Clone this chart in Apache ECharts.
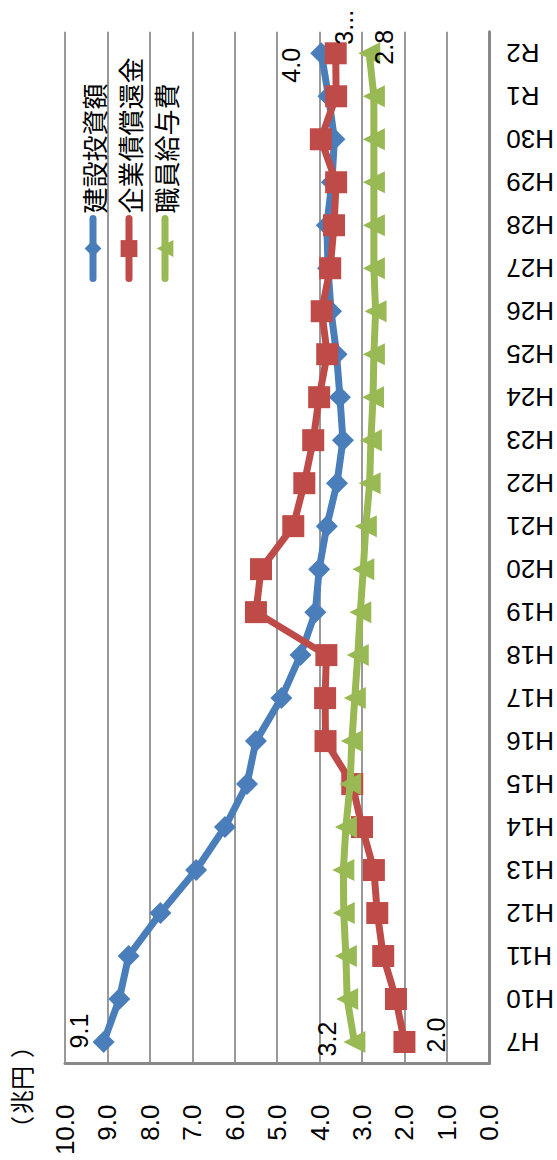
<!DOCTYPE html>
<html>
<head>
<meta charset="utf-8">
<script src="https://cdn.jsdelivr.net/npm/echarts@6/dist/echarts.min.js"></script>
<style>
html,body{margin:0;padding:0;background:#fff;overflow:hidden;width:557px;height:1160px;}
#main{position:absolute;left:0;top:0;width:1160px;height:557px;transform-origin:0 0;transform:translate(0,1160px) rotate(-90deg);}
</style>
</head>
<body>
<div id="main"></div>
<script>
var categories = ['H7','H10','H11','H12','H13','H14','H15','H16','H17','H18','H19','H20','H21','H22','H23','H24','H25','H26','H27','H28','H29','H30','R1','R2'];
var seriesNames = ['建設投資額','企業債償還金','職員給与費'];
var construction = [9.09, 8.72, 8.50, 7.75, 6.91, 6.23, 5.71, 5.50, 4.90, 4.45, 4.10, 4.01, 3.83, 3.59, 3.45, 3.52, 3.60, 3.73, 3.80, 3.83, 3.71, 3.65, 3.79, 3.96];
var bondRedemption = [2.00, 2.20, 2.50, 2.64, 2.72, 3.00, 3.23, 3.86, 3.87, 3.84, 5.50, 5.38, 4.62, 4.36, 4.15, 4.01, 3.82, 3.95, 3.75, 3.66, 3.61, 3.97, 3.61, 3.62];
var salaries = [3.18, 3.35, 3.38, 3.43, 3.44, 3.38, 3.28, 3.24, 3.17, 3.10, 3.04, 2.97, 2.91, 2.82, 2.79, 2.74, 2.72, 2.68, 2.72, 2.72, 2.72, 2.72, 2.72, 2.83];
var valueTicks = {min: 0, max: 10, interval: 1};
var unitText = ['（', '兆円', '）'];

var colors = ['#4A7EBB', '#BE4B48', '#98B954'];
var symbols = ['diamond', 'rect', 'triangle'];
// label offsets for first / last point of each series
var labelOffsets = [
  [[11, -25], [-12, -30]],
  [[7, 32], [26, 8]],
  [[3, -27], [6, 15]]
];
var latin = '"Liberation Sans", Arial, sans-serif';
var cjk = '"Noto Sans CJK JP", "Noto Sans", sans-serif';

function buildData(arr, si) {
  return arr.map(function (v, i) {
    var item = {value: v};
    var last = arr.length - 1;
    if (i === 0 || i === last) {
      var off = labelOffsets[si][i === 0 ? 0 : 1];
      item.label = {
        show: true,
        position: 'inside',
        offset: off,
        fontSize: 25,
        fontFamily: latin,
        color: '#000',
        formatter: function (p) {
          var s = p.value.toFixed(1);
          if (si === 1 && i === last) { s = s.slice(0, 1) + '...'; }
          return s;
        }
      };
    }
    return item;
  });
}

var allData = [construction, bondRedemption, salaries];
var series = allData.map(function (arr, si) {
  return {
    name: seriesNames[si],
    type: 'line',
    data: buildData(arr, si),
    symbol: symbols[si],
    symbolSize: 22,
    lineStyle: {width: 7, color: colors[si], cap: 'round', join: 'round'},
    itemStyle: {color: colors[si]},
    label: {show: false},
    emphasis: {disabled: true},
    z: 2 + si
  };
});

var chart = echarts.init(document.getElementById('main'), null, {renderer: 'svg', width: 1160, height: 557});
chart.setOption({
  animation: false,
  backgroundColor: '#fff',
  grid: {left: 96.5, right: 31.8, top: 65, bottom: 62.7, containLabel: false},
  legend: {
    data: seriesNames,
    orient: 'vertical',
    left: 873,
    top: 75,
    itemWidth: 60,
    itemHeight: 21,
    itemGap: 10,
    textStyle: {fontSize: 26, fontFamily: cjk, color: '#000'},
    lineStyle: {width: 7, cap: 'round'}
  },
  xAxis: {
    type: 'category',
    data: categories,
    boundaryGap: true,
    axisLine: {show: true, lineStyle: {color: '#898989', width: 3}},
    axisTick: {show: false},
    axisLabel: {interval: 0, rotate: 90, margin: 17, fontSize: 26, fontFamily: latin, color: '#000'},
    splitLine: {show: false}
  },
  yAxis: {
    type: 'value',
    min: valueTicks.min,
    max: valueTicks.max,
    interval: valueTicks.interval,
    axisLine: {show: true, lineStyle: {color: '#898989', width: 3}},
    axisTick: {show: false},
    axisLabel: {margin: 41, fontSize: 26, fontFamily: latin, color: '#000', formatter: function (v) { return v.toFixed(1); }},
    splitLine: {show: true, lineStyle: {color: '#999999', width: 2}}
  },
  graphic: [{
    type: 'text',
    left: 20,
    top: 8,
    style: {
      text: '{a|' + unitText[0] + '}{t|' + unitText[1] + '}{b|' + unitText[2] + '}',
      fontSize: 24,
      fontFamily: cjk,
      fill: '#000',
      rich: {
        a: {fontSize: 24, fontFamily: cjk, fill: '#000', padding: [0, 2, 0, 0]},
        t: {fontSize: 24, fontFamily: cjk, fill: '#000'},
        b: {fontSize: 24, fontFamily: cjk, fill: '#000', padding: [0, 0, 0, 8]}
      }
    }
  }],
  series: series
});
</script>
</body>
</html>
